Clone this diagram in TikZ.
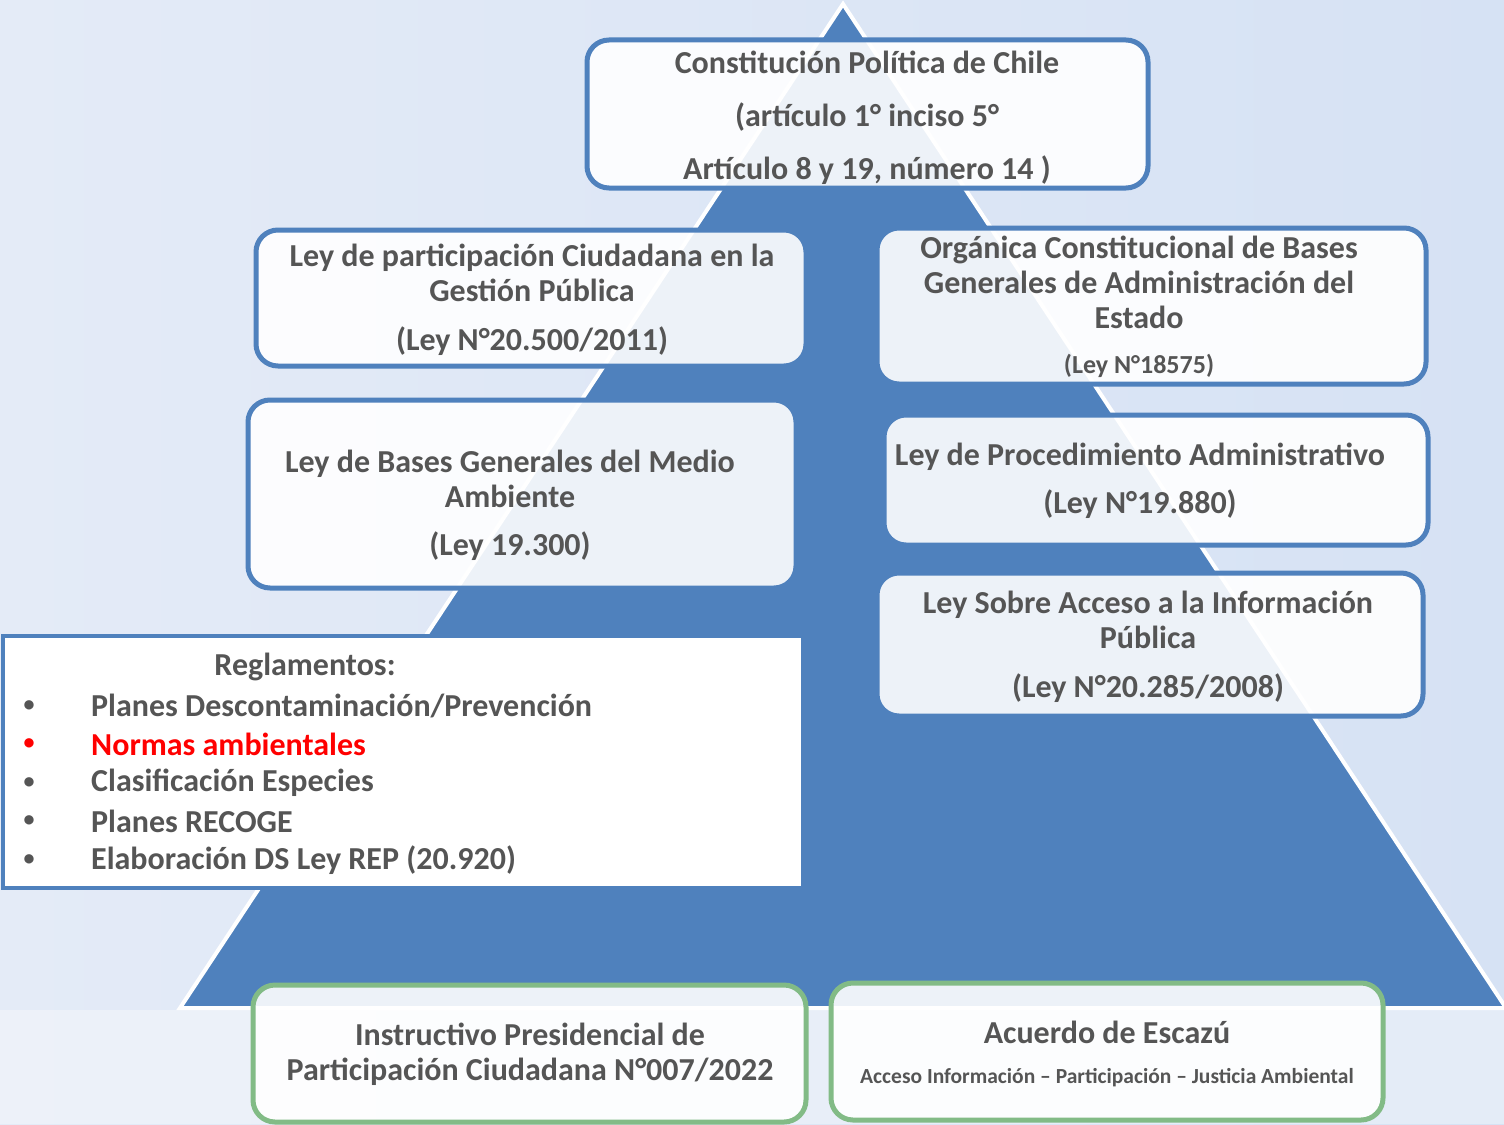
\documentclass[tikz,border=0pt]{standalone}
\usepackage{fontspec}
\setmainfont{Carlito}
\usetikzlibrary{positioning}

\definecolor{piramide}{HTML}{4F81BD}
\definecolor{texto}{HTML}{555555}
\definecolor{verde}{HTML}{82BB86}
\definecolor{fondoA}{HTML}{E4EBF7}
\definecolor{fondoB}{HTML}{D6E2F4}

\tikzset{
  leybox/.style={draw=piramide, line width=5pt, rounded corners=22pt, fill=white,
    fill opacity=0.9, inner sep=0pt},
  acuerdobox/.style={leybox, draw=verde},
  leytxt/.style={align=center, text=texto, inner sep=0pt,
    font=\bfseries\fontsize{32}{35}\selectfont},
  listabox/.style={draw=piramide, line width=4pt, fill=white, inner sep=0pt},
  item/.style={anchor=west, text=texto, font=\bfseries\fontsize{32}{35}\selectfont, inner sep=0pt},
  vineta/.style={item, anchor=center, font=\bfseries\fontsize{22}{24}\selectfont}
}

\begin{document}
\begin{tikzpicture}[x=1pt,y=-1pt]
\useasboundingbox (0,0) rectangle (1504,1124);
\shade[left color=fondoA, right color=fondoB] (0,0) rectangle (1504,1124);
\fill[white, opacity=0.35] (0,1010) rectangle (1504,1124);

% piramide
\filldraw[fill=piramide, draw=white, line width=4pt] (843,4) -- (1506,1008) -- (180,1008) -- cycle;

% cajas
\node[leybox, minimum width=561pt, minimum height=148pt] (cpr) at (867.5,114) {};
\node[leytxt] (cprt) at (867,118)
  {Constitución Política de Chile\\[18pt] (artículo 1° inciso 5°\\[18pt] Artículo 8 y 19, número 14 )};

\node[leybox, minimum width=550pt, minimum height=136pt] (part) at (531,298) {};
\node[leytxt] (partt) at (532,300)
  {Ley de participación Ciudadana en la\\ Gestión Pública\\[14pt] (Ley N°20.500/2011)};

\node[leybox, minimum width=549pt, minimum height=156pt] (loc) at (1151.5,306) {};
\node[leytxt] (loct) at (1139,307)
  {Orgánica Constitucional de Bases\\ Generales de Administración del\\ Estado\\[10pt]
   {\fontsize{26}{28}\selectfont (Ley N°18575)}};

\node[leybox, minimum width=548pt, minimum height=188pt] (lbgma) at (522,494) {};
\node[leytxt] (lbgmat) at (510,505)
  {Ley de Bases Generales del Medio\\ Ambiente\\[13pt] (Ley 19.300)};

\node[leybox, minimum width=544pt, minimum height=130pt] (lpa) at (1156,480) {};
\node[leytxt] (lpat) at (1140,481)
  {Ley de Procedimiento Administrativo\\[13pt] (Ley N°19.880)};

\node[leybox, minimum width=546pt, minimum height=143pt] (info) at (1150,644.5) {};
\node[leytxt] (infot) at (1148,646.5)
  {Ley Sobre Acceso a la Información\\ Pública\\[14pt] (Ley N°20.285/2008)};

% reglamentos
\node[listabox, minimum width=800pt, minimum height=252pt] (regl) at (403,762) {};
\node[item, anchor=center] (reglt) at (305,667) {Reglamentos:};
\foreach \i/\txt/\yy/\col in {1/{Planes Descontaminación/Prevención}/706/texto,
                              2/{Normas ambientales}/744/red,
                              3/{Clasificación Especies}/783/texto,
                              4/{Planes RECOGE}/821/texto,
                              5/{Elaboración DS Ley REP (20.920)}/860/texto}{
  \node[vineta, text=\col] (bul\i) at (29,\yy) {•};
  \node[item, text=\col] (reg\i) at (91,\yy) {\txt};
}

% acuerdos
\node[acuerdobox, minimum width=553pt, minimum height=137pt] (instr) at (529.5,1053.5) {};
\node[leytxt] (instrt) at (530,1054.5)
  {Instructivo Presidencial de\\ Participación Ciudadana N°007/2022};

\node[acuerdobox, minimum width=552pt, minimum height=137pt] (escazu) at (1107,1051.5) {};
\node[leytxt] (escazut) at (1107,1054)
  {Acuerdo de Escazú\\[5pt]
   {\fontsize{21.5}{24}\selectfont Acceso Información – Participación – Justicia Ambiental}};
\end{tikzpicture}
\end{document}
